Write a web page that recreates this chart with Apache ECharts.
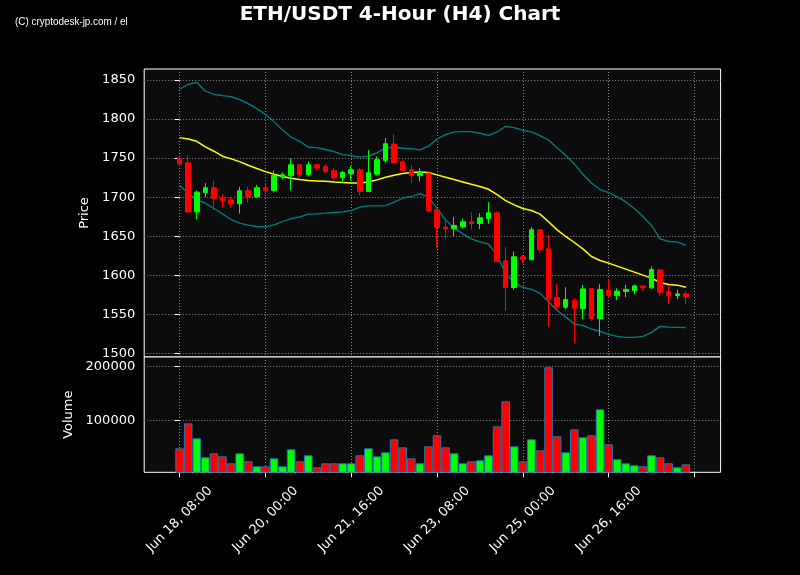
<!DOCTYPE html>
<html><head><meta charset="utf-8">
<script src="https://cdn.jsdelivr.net/npm/echarts@6/dist/echarts.min.js"></script>
<style>html,body{margin:0;padding:0;background:#000;}#c{width:800px;height:575px;}</style>
</head><body><div id="c"></div>
<script>
// ---- data ----
const tickIndex = [0, 10, 20, 30, 40, 50, 60];
const tickLabels = ['Jun 18, 08:00', 'Jun 20, 00:00', 'Jun 21, 16:00', 'Jun 23, 08:00', 'Jun 25, 00:00', 'Jun 26, 16:00', ''];
const priceTicks = [1500, 1550, 1600, 1650, 1700, 1750, 1800, 1850];
const volumeTicks = [100000, 200000];

const openP = [1750, 1744, 1681, 1705.6, 1712, 1699.2, 1696.6, 1691.5, 1708.6, 1700.5,
  1712, 1708.6, 1725.7, 1727.4, 1741.5, 1729, 1741.5, 1738.9, 1733.8, 1724.8,
  1730, 1735, 1707.3, 1729.5, 1747, 1768, 1745.3, 1735.5, 1727.4, 1730.8,
  1683.8, 1661.6, 1659.4, 1662, 1668.4, 1666.2, 1672.7, 1679.9, 1618.4, 1584.3,
  1623.6, 1619.8, 1658.2, 1633.8, 1571.5, 1559, 1568, 1557.3, 1582.9, 1544.5,
  1581.2, 1574, 1579.1, 1580.4, 1586.3, 1583.8, 1606.8, 1579.1, 1574, 1576.1];
const closeP = [1742.5, 1681, 1706.4, 1712, 1698.3, 1695.3, 1691.5, 1708.2, 1700.9, 1712,
  1708.6, 1727.8, 1728.6, 1741.5, 1728.6, 1741.5, 1737.2, 1732.5, 1724.8, 1731.6,
  1735, 1707.3, 1731.2, 1747.9, 1768.4, 1744.4, 1734.2, 1727.4, 1731.6, 1682.5,
  1661.1, 1659.4, 1663.7, 1668.4, 1666.2, 1673.5, 1679.9, 1617.6, 1584.3, 1623.6,
  1620.2, 1658.2, 1632.5, 1569.8, 1560, 1568.8, 1557.7, 1582.5, 1544.5, 1581.6,
  1574, 1579.5, 1581.6, 1586.3, 1584.2, 1607.3, 1578.2, 1574, 1576.1, 1572.2];
const lowP = [1740, 1680, 1671.4, 1700, 1683.4, 1686, 1686.8, 1679, 1693.2, 1698.8,
  1704.3, 1706, 1723.1, 1708.6, 1723, 1726.5, 1734.6, 1730, 1721.8, 1718.4,
  1721.4, 1702.2, 1706.5, 1727.8, 1743.6, 1743.6, 1733.3, 1718, 1720.1, 1681,
  1634.7, 1646.2, 1649.9, 1659.9, 1658.4, 1659, 1665.8, 1617, 1554.4, 1581.3,
  1615.5, 1618.9, 1628.3, 1533.7, 1555.7, 1556.4, 1512.5, 1543.6, 1541.5, 1521.9,
  1570.5, 1568, 1571.8, 1576, 1580, 1582.5, 1573.1, 1563.3, 1569.3, 1562.9];
const highP = [1753, 1754, 1708.6, 1718, 1721, 1703.9, 1700.5, 1713.3, 1713.3, 1715.8,
  1718, 1734.2, 1731.6, 1749.6, 1742, 1745.7, 1742.3, 1742.3, 1737.2, 1733.8,
  1739.8, 1737.2, 1760.2, 1752.1, 1775.6, 1780.7, 1748.3, 1741, 1737.2, 1731,
  1684, 1669.7, 1674.4, 1672.7, 1680.8, 1679.5, 1693.6, 1681.6, 1636, 1630.4,
  1626, 1661.6, 1658.5, 1651.3, 1588.5, 1584.6, 1570.5, 1587.6, 1583, 1588.5,
  1595.3, 1583.3, 1587.6, 1588, 1586.5, 1611.1, 1608.1, 1586.3, 1581.6, 1579];

const bbUpper = [1838.1, 1844.5, 1847, 1835.9, 1831.7, 1830, 1828.7, 1824.8, 1819.7, 1813.3,
  1806, 1796.7, 1786, 1776.7, 1771.5, 1763.9, 1763.4, 1761, 1758.3, 1754.5,
  1753.2, 1751.1, 1752.4, 1756.6, 1763, 1763.9, 1762.6, 1762.2, 1760.5, 1765.2,
  1774.5, 1780.1, 1783.5, 1783.9, 1783.9, 1781.8, 1779.2, 1783.5, 1790.7, 1789,
  1785.6, 1783.5, 1778.8, 1773.2, 1763, 1753.6, 1742.5, 1729.3, 1718.2, 1709.7,
  1705.9, 1700.3, 1693.9, 1685.4, 1675.2, 1663.7, 1646.6, 1643.2, 1642.8, 1638.1];
const bbMiddle = [1776.2, 1774.5, 1771.5, 1764.3, 1758.8, 1752.4, 1749, 1745.5, 1740.8, 1736.6,
  1732.7, 1729.3, 1726.3, 1724.2, 1722.5, 1721.2, 1720.8, 1720.2, 1719.3, 1718.7,
  1718.2, 1718.2, 1719.5, 1722.1, 1725.5, 1728, 1730.2, 1731.5, 1732.3, 1731.5,
  1728.5, 1725.5, 1722.5, 1719.5, 1716.5, 1713.6, 1710.1, 1703.3, 1695.6, 1690.1,
  1685.4, 1682.8, 1678.2, 1668.4, 1658.1, 1649.6, 1641.9, 1633.8, 1624, 1618.9,
  1615.5, 1611.6, 1607.8, 1604, 1600.1, 1596.3, 1590.7, 1588.2, 1587.3, 1584.7];
const bbLower = [1714.8, 1705, 1696.5, 1692.2, 1685.4, 1678.6, 1671.3, 1666.6, 1664.1, 1662.4,
  1662, 1664.5, 1668.8, 1672.6, 1674.8, 1678.2, 1678.6, 1679.4, 1680.3, 1681.1,
  1682.8, 1687.1, 1688.8, 1688.8, 1689.2, 1693.5, 1698.6, 1700.8, 1704.6, 1700.3,
  1685.4, 1670.9, 1660.3, 1653, 1646.6, 1642.8, 1639.8, 1626.1, 1601.5, 1590.7,
  1584.3, 1581.8, 1577.1, 1566, 1554.9, 1546.4, 1537.4, 1535.7, 1531, 1528.1,
  1524.2, 1521.7, 1520.4, 1520.4, 1521.7, 1526.8, 1534.5, 1533.6, 1533.2, 1532.8];

const volume = [48100, 94400, 66700, 31500, 38900, 33300, 20400, 38900, 24100, 14800,
  14800, 29600, 14800, 46300, 24100, 35200, 13000, 20400, 20400, 20400,
  20400, 35200, 48100, 33300, 40700, 64800, 50000, 29600, 20400, 51800,
  72200, 50000, 38900, 20400, 24100, 25900, 35200, 88900, 135200, 51800,
  24100, 64800, 44400, 198100, 70400, 40700, 83300, 68500, 72200, 120400,
  55600, 27800, 20400, 16700, 14800, 35200, 31500, 20400, 13000, 18500];

// ---- chart ----
const UP = '#00ff00', DOWN = '#ff0000';
const FONT = 'DejaVu Sans';
const idx = openP.map((_, i) => i);
const candleData = idx.map(i => [i, openP[i], closeP[i], lowP[i], highP[i]]);
const line = arr => arr.map((v, i) => [i, v]);
const volData = idx.map(i => ({
  value: [i, volume[i]],
  itemStyle: { color: closeP[i] >= openP[i] ? UP : DOWN }
}));

const X_MIN = -4.126, X_MAX = 63.05;
const gridLine = { show: true, lineStyle: { color: '#8a8a8a', width: 1, type: [1, 2] } };
const plain = v => String(v);

const chart = echarts.init(document.getElementById('c'), null, { renderer: 'canvas' });
chart.setOption({
  animation: false,
  backgroundColor: '#000000',
  title: {
    text: 'ETH/USDT 4-Hour (H4) Chart',
    left: 'center', top: 0,
    textStyle: { color: '#ffffff', fontSize: 20, fontWeight: 'bold', fontFamily: FONT }
  },
  graphic: [{
    type: 'text', left: 15, top: 16, scaleX: 0.9,
    style: { text: '(C) cryptodesk-jp.com / el', fill: '#ffffff', fontSize: 11,
      fontFamily: '"Liberation Sans Narrow", "Liberation Sans", sans-serif' }
  }],
  grid: [
    { left: 144.2, width: 576.4, top: 69, height: 288, show: true,
      backgroundColor: '#0c0c0c', borderColor: '#ffffff', borderWidth: 1 },
    { left: 144.2, width: 576.4, top: 357, height: 115.3, show: true,
      backgroundColor: '#0c0c0c', borderColor: '#ffffff', borderWidth: 1 }
  ],
  xAxis: [
    { type: 'value', gridIndex: 0, min: X_MIN, max: X_MAX,
      axisLine: { show: false },
      axisTick: { show: false, customValues: tickIndex },
      axisLabel: { show: false, customValues: tickIndex },
      splitLine: gridLine },
    { type: 'value', gridIndex: 1, min: X_MIN, max: X_MAX,
      axisLine: { show: false },
      axisTick: { show: true, customValues: tickIndex, length: 5, lineStyle: { color: '#ffffff', width: 1 } },
      axisLabel: { show: true, customValues: tickIndex.slice(0, 6), rotate: 45, margin: 47,
        align: 'center', verticalAlign: 'middle',
        color: '#ffffff', fontSize: 13, fontFamily: FONT,
        formatter: v => tickLabels[Math.round(v / 10)] },
      splitLine: gridLine }
  ],
  yAxis: [
    { type: 'value', gridIndex: 0, min: 1495.26, max: 1864.09,
      name: 'Price', nameLocation: 'middle', nameGap: 44, nameRotate: 90,
      nameTextStyle: { color: '#ffffff', fontSize: 13, fontFamily: FONT },
      axisLine: { show: false },
      axisTick: { show: true, customValues: priceTicks, length: 5, lineStyle: { color: '#ffffff', width: 1 } },
      axisLabel: { customValues: priceTicks, margin: 9, color: '#ffffff', fontSize: 13, fontFamily: FONT, formatter: plain },
      splitLine: gridLine },
    { type: 'value', gridIndex: 1, min: 3704, max: 217222,
      name: 'Volume', nameLocation: 'middle', nameGap: 64, nameRotate: 90,
      nameTextStyle: { color: '#ffffff', fontSize: 13, fontFamily: FONT },
      axisLine: { show: false },
      axisTick: { show: true, customValues: volumeTicks, length: 5, lineStyle: { color: '#ffffff', width: 1 } },
      axisLabel: { customValues: volumeTicks, margin: 9, color: '#ffffff', fontSize: 13, fontFamily: FONT, formatter: plain },
      splitLine: gridLine }
  ],
  series: [
    { type: 'line', xAxisIndex: 0, yAxisIndex: 0, data: line(bbUpper), showSymbol: false,
      lineStyle: { color: '#008080', width: 1.3 }, z: 3 },
    { type: 'line', xAxisIndex: 0, yAxisIndex: 0, data: line(bbLower), showSymbol: false,
      lineStyle: { color: '#008080', width: 1.3 }, z: 3 },
    { type: 'line', xAxisIndex: 0, yAxisIndex: 0, data: line(bbMiddle), showSymbol: false,
      lineStyle: { color: '#ffff00', width: 1.5 }, z: 3 },
    { type: 'candlestick', xAxisIndex: 0, yAxisIndex: 0, data: candleData, barWidth: 5,
      encode: { x: 0, y: [1, 2, 3, 4] },
      itemStyle: { color: UP, color0: DOWN, borderColor: UP, borderColor0: DOWN, borderWidth: 1 }, z: 4 },
    { type: 'bar', xAxisIndex: 1, yAxisIndex: 1, data: volData, barWidth: 8.58,
      itemStyle: { borderColor: '#1f77b4', borderWidth: 1 } }
  ]
});
</script>
</body></html>
